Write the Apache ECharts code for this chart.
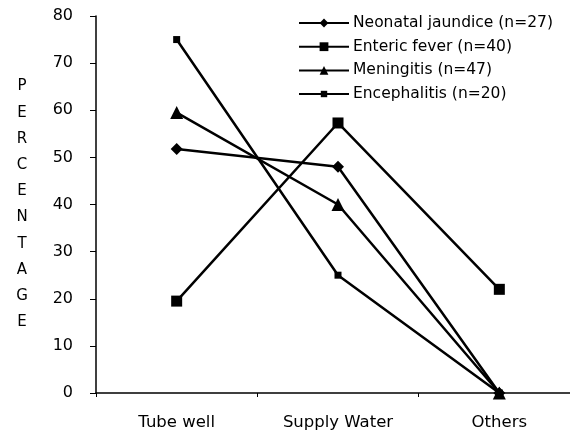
<!DOCTYPE html>
<html>
<head>
<meta charset="utf-8">
<script src="https://cdn.jsdelivr.net/npm/echarts@6/dist/echarts.min.js"></script>
<style>
  html, body { margin: 0; padding: 0; background: #fff; }
  #chart { width: 570px; height: 440px; }
</style>
</head>
<body>
<div id="chart"></div>
<script>
// Water source categories and percentage of cases per disease
const categories = ['Tube well', 'Supply Water', 'Others'];
const neonatalJaundice = [51.8, 48, 0];
const entericFever = [19.5, 57.3, 22];
const meningitis = [59.5, 40, 0];
const encephalitis = [75, 25, 0];
const yTicks = { min: 0, max: 80, interval: 10 };
const axisTitle = 'PERCENTAGE';
const seriesNames = [
  'Neonatal jaundice (n=27)',
  'Enteric fever (n=40)',
  'Meningitis (n=47)',
  'Encephalitis (n=20)'
];

const font = 'DejaVu Sans, Verdana, sans-serif';
const ink = '#000';

function lineSeries(name, data, symbol, size) {
  return {
    name: name,
    type: 'line',
    data: data,
    symbol: symbol,
    symbolSize: size,
    clip: false,
    lineStyle: { color: ink, width: 2.5 },
    itemStyle: { color: ink },
    emphasis: { disabled: true }
  };
}

const legendText = { fontFamily: font, fontSize: 15.5, color: ink, lineHeight: 16, padding: [0, 0, 0, -1] };

const chart = echarts.init(document.getElementById('chart'), null, { renderer: 'canvas' });
chart.setOption({
  backgroundColor: '#fff',
  animation: false,
  textStyle: { fontFamily: font, color: ink },
  // the category axis runs on past the right edge of the page
  grid: { left: 96, right: -10, top: 16, bottom: 47, outerBoundsMode: 'none', containLabel: false },
  legend: [
    {
      orient: 'vertical',
      left: 298,
      top: 15,
      padding: 0,
      itemWidth: 50,
      itemHeight: 11,
      itemGap: 7.7,
      textStyle: legendText,
      data: seriesNames.slice(0, 3)
    },
    {
      // the encephalitis key uses a smaller marker
      orient: 'vertical',
      left: 298,
      top: 86,
      padding: 0,
      itemWidth: 50,
      itemHeight: 8,
      textStyle: legendText,
      data: seriesNames.slice(3)
    }
  ],
  xAxis: {
    type: 'category',
    data: categories,
    boundaryGap: true,
    axisLine: { lineStyle: { color: ink, width: 1.5 } },
    axisTick: { show: true, length: 4, lineStyle: { color: ink } },
    axisLabel: { color: ink, fontFamily: font, fontSize: 16.5, margin: 21 },
    splitLine: { show: false }
  },
  yAxis: {
    type: 'value',
    min: yTicks.min,
    max: yTicks.max,
    interval: yTicks.interval,
    name: axisTitle.split('').join('\n'),
    nameLocation: 'middle',
    nameRotate: 0,
    nameGap: 74,
    nameTextStyle: { fontFamily: font, fontSize: 15, color: ink, lineHeight: 26.2, align: 'center', verticalAlign: 'middle' },
    axisLine: { show: true, lineStyle: { color: ink, width: 1.5 } },
    axisTick: { show: true, inside: false, length: 6, lineStyle: { color: ink } },
    axisLabel: { color: ink, fontFamily: font, fontSize: 16, margin: 23 },
    splitLine: { show: false }
  },
  series: [
    lineSeries(seriesNames[0], neonatalJaundice, 'diamond', 12),
    lineSeries(seriesNames[1], entericFever, 'rect', 11),
    lineSeries(seriesNames[2], meningitis, 'triangle', 13),
    lineSeries(seriesNames[3], encephalitis, 'rect', 7)
  ]
});
</script>
</body>
</html>
